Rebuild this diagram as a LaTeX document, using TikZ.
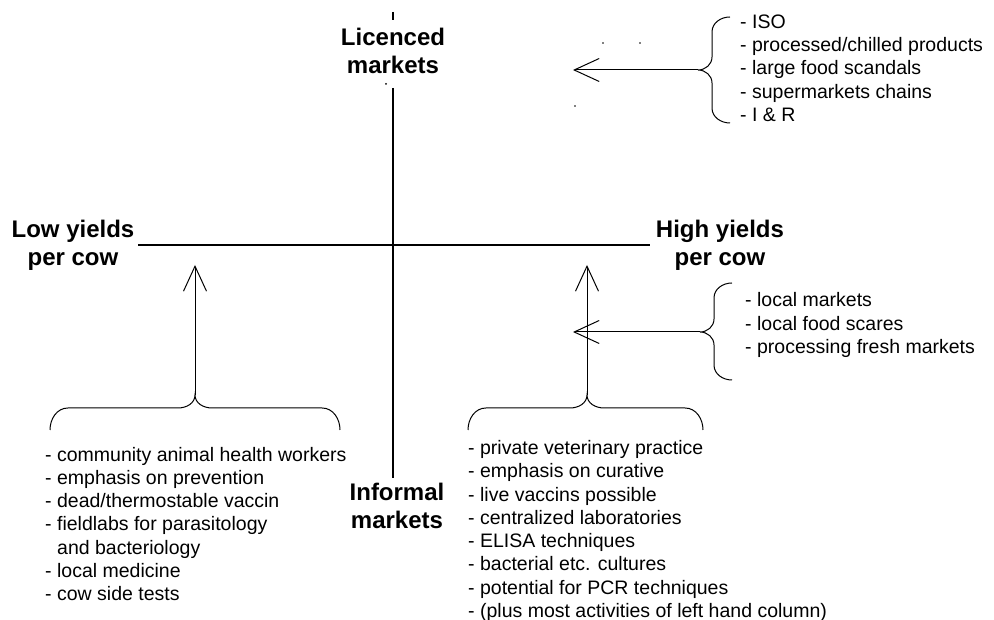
\documentclass[tikz,border=0pt]{standalone}
\usepackage{fontspec}
\setmainfont{Liberation Sans}
\usetikzlibrary{arrows.meta}
\begin{document}
\begin{tikzpicture}[x=1pt,y=1pt,
  axis/.style={line width=2pt},
  lwone/.style={line width=1pt},
  arr/.style={line width=1pt,-{Straight Barb[length=25pt,width=23pt,line width=1pt]}},
  head/.style={font=\fontsize{24}{28}\selectfont\bfseries,align=center,inner sep=0pt},
  list/.style={font=\fontsize{19.5}{23.3}\selectfont,align=left,inner sep=0pt,anchor=west},
]
\useasboundingbox (0,0) rectangle (994,620);

% axes
\coordinate (vt1) at (393,608);
\coordinate (vt2) at (393,600);
\coordinate (vtop) at (393,532);
\coordinate (vbot) at (393,142);
\coordinate (hl) at (138,375);
\coordinate (hr) at (650,375);
\draw[axis] (vt1) -- (vt2);
\draw[axis] (vtop) -- (vbot);
\draw[axis] (hl) -- (hr);

% specks
\fill (386,536) circle (1);
\fill (603,577) circle (0.8);
\fill (640,577) circle (0.8);
\fill (575,514) circle (0.8);

% axis labels
\node[head] (lic) at (393,569) {Licenced\\markets};
\node[head] (low) at (73,375) {Low yields\\per cow};
\node[head] (high) at (720,375) {High yields\\per cow};
\node[head] (inf) at (397,114) {Informal\\markets};

% top right list
\node[list] (toplist) at (740,552) {- ISO\\- processed/chilled products\\- large food scandals\\- supermarkets chains\\- I \& R};
\draw[lwone] (730,603) to[out=180,in=90] (712,588) -- (712,563) to[out=-90,in=0] (698,550) coordinate (tb)
  to[out=0,in=90] (712,537) -- (712,512) to[out=-90,in=180] (730,497);
\coordinate (ta) at (573,550);
\draw[arr] (tb) -- (ta);

% middle right list
\node[list] (midlist) at (745,295) {- local markets\\- local food scares\\- processing fresh markets};
\draw[lwone] (732,337) to[out=180,in=90] (714,322) -- (714,301) to[out=-90,in=0] (700,288) coordinate (mb)
  to[out=0,in=90] (714,275) -- (714,255) to[out=-90,in=180] (732,240);
\coordinate (ma) at (573,288);
\draw[arr] (mb) -- (ma);

% left bottom list
\node[list] (leftlist) at (45,96) {- community animal health workers\\- emphasis on prevention\\- dead/thermostable vaccin\\- fieldlabs for parasitology\\\hspace*{12pt}and bacteriology\\- local medicine\\- cow side tests};
\draw[lwone] (50,190) to[out=90,in=180] (68,212) -- (178,212) to[out=0,in=-90] (195,225) coordinate (lb)
  to[out=-90,in=180] (212,212) -- (322,212) to[out=0,in=90] (340,190);
\coordinate (la) at (195,355);
\draw[arr] (lb) -- (la);

% right bottom list
\node[list] (rightlist) at (468,89) {- private veterinary practice\\- emphasis on curative\\- live vaccins possible\\- centralized laboratories\\- ELISA techniques\\- bacterial etc. cultures\\- potential for PCR techniques\\- (plus most activities of left hand column)};
\draw[lwone] (468,190) to[out=90,in=180] (486,212) -- (570,212) to[out=0,in=-90] (587,225) coordinate (rb)
  to[out=-90,in=180] (604,212) -- (685,212) to[out=0,in=90] (703,190);
\coordinate (ra) at (587,355);
\draw[arr] (rb) -- (ra);
\end{tikzpicture}
\end{document}
